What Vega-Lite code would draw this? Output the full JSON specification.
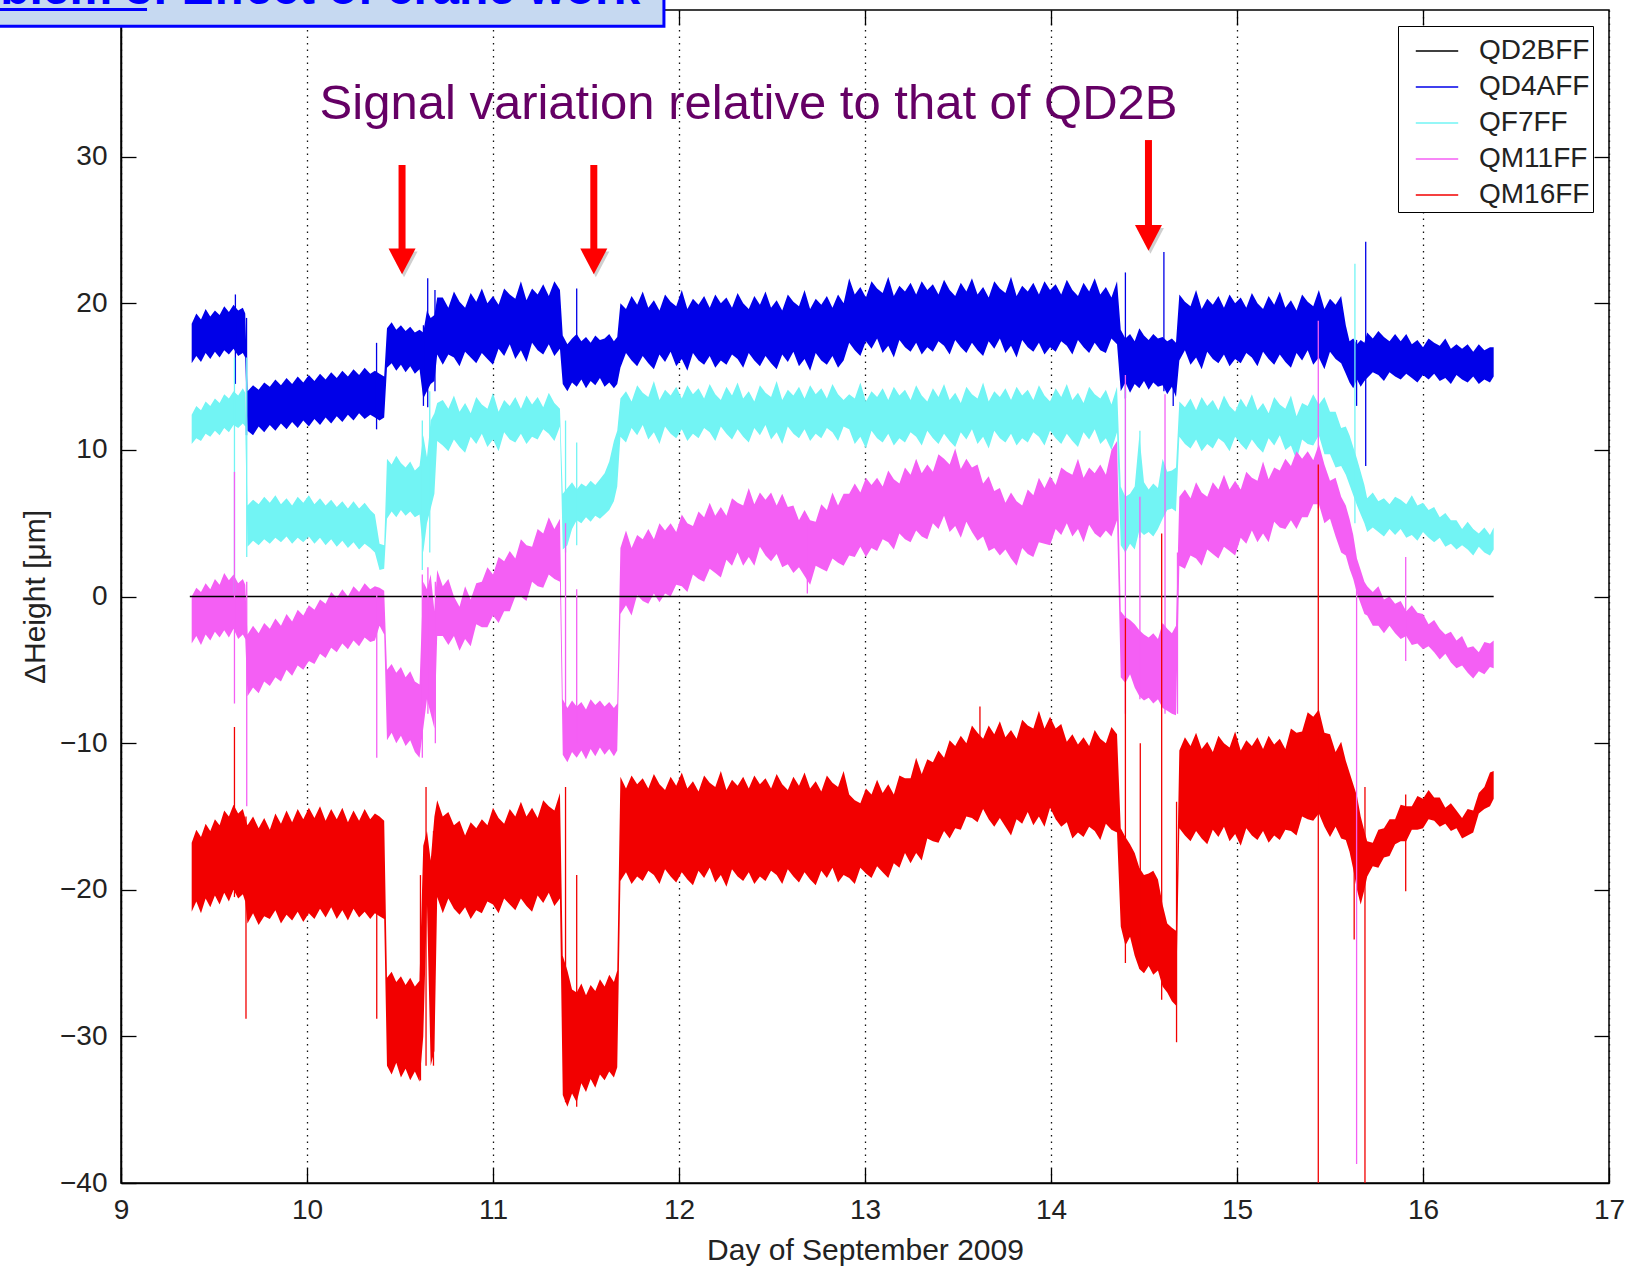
{
  "$schema": "https://vega.github.io/schema/vega-lite/v6.json",
  "width": 1488,
  "height": 1173,
  "autosize": {"type": "none"},
  "padding": {"left": 121, "top": 10, "right": 21, "bottom": 86},
  "background": "#ffffff",
  "datasets": {
    "bands": [
      {"t":9.38,"b1":15.9,"b2":18.6,"c1":10.4,"c2":12.4,"m1":-3.2,"m2":0.0,"r1":-21.5,"r2":-16.8},
      {"t":9.405,"b1":16.4,"b2":19.3,"c1":10.8,"c2":13.0,"m1":-2.7,"m2":0.6,"r1":-20.8,"r2":-15.9},
      {"t":9.43,"b1":16.0,"b2":18.9,"c1":10.6,"c2":12.7,"m1":-3.3,"m2":0.3,"r1":-21.6,"r2":-16.4},
      {"t":9.455,"b1":16.6,"b2":19.6,"c1":11.1,"c2":13.3,"m1":-2.6,"m2":0.9,"r1":-20.6,"r2":-15.5},
      {"t":9.48,"b1":16.2,"b2":19.1,"c1":10.9,"c2":13.0,"m1":-3.0,"m2":0.5,"r1":-21.2,"r2":-16.0},
      {"t":9.505,"b1":16.7,"b2":19.5,"c1":11.3,"c2":13.5,"m1":-2.4,"m2":1.2,"r1":-20.4,"r2":-15.2},
      {"t":9.53,"b1":16.3,"b2":19.2,"c1":11.0,"c2":13.2,"m1":-2.8,"m2":0.8,"r1":-21.0,"r2":-15.6},
      {"t":9.555,"b1":16.8,"b2":19.8,"c1":11.5,"c2":13.8,"m1":-2.3,"m2":1.6,"r1":-20.2,"r2":-14.6},
      {"t":9.58,"b1":16.5,"b2":19.4,"c1":11.2,"c2":13.5,"m1":-2.8,"m2":1.1,"r1":-20.8,"r2":-15.0},
      {"t":9.605,"b1":16.9,"b2":19.9,"c1":11.7,"c2":14.0,"m1":-2.2,"m2":1.5,"r1":-20.0,"r2":-14.2},
      {"t":9.63,"b1":16.4,"b2":19.5,"c1":11.5,"c2":13.7,"m1":-2.9,"m2":0.9,"r1":-20.6,"r2":-14.8},
      {"t":9.655,"b1":16.6,"b2":19.7,"c1":11.8,"c2":14.2,"m1":-2.6,"m2":1.2,"r1":-20.3,"r2":-14.5},
      {"t":9.668,"b1":16.3,"b2":19.3,"c1":11.6,"c2":13.9,"m1":-2.9,"m2":0.8,"r1":-20.8,"r2":-15.1},
      {"t":9.68,"b1":11.3,"b2":14.0,"c1":3.4,"c2":6.2,"m1":-6.8,"m2":-2.6,"r1":-22.3,"r2":-15.6},
      {"t":9.71,"b1":11.0,"b2":14.4,"c1":3.8,"c2":6.6,"m1":-6.2,"m2":-2.0,"r1":-21.6,"r2":-15.0},
      {"t":9.74,"b1":11.6,"b2":14.1,"c1":3.5,"c2":6.3,"m1":-6.6,"m2":-2.5,"r1":-22.4,"r2":-15.8},
      {"t":9.77,"b1":11.2,"b2":14.6,"c1":3.9,"c2":6.8,"m1":-5.8,"m2":-1.8,"r1":-21.8,"r2":-15.1},
      {"t":9.8,"b1":11.7,"b2":14.3,"c1":3.6,"c2":6.4,"m1":-6.1,"m2":-2.2,"r1":-22.0,"r2":-15.9},
      {"t":9.83,"b1":11.3,"b2":14.8,"c1":4.0,"c2":6.9,"m1":-5.5,"m2":-1.5,"r1":-21.4,"r2":-14.8},
      {"t":9.86,"b1":11.8,"b2":14.4,"c1":3.7,"c2":6.3,"m1":-5.8,"m2":-2.0,"r1":-22.3,"r2":-15.5},
      {"t":9.89,"b1":11.4,"b2":14.9,"c1":4.1,"c2":6.7,"m1":-5.0,"m2":-1.2,"r1":-21.7,"r2":-14.6},
      {"t":9.92,"b1":11.9,"b2":14.5,"c1":3.6,"c2":6.2,"m1":-5.4,"m2":-1.7,"r1":-22.1,"r2":-15.4},
      {"t":9.95,"b1":11.5,"b2":15.0,"c1":4.0,"c2":6.8,"m1":-4.7,"m2":-0.9,"r1":-21.5,"r2":-14.5},
      {"t":9.98,"b1":12.0,"b2":14.6,"c1":3.7,"c2":6.4,"m1":-5.0,"m2":-1.3,"r1":-22.2,"r2":-15.2},
      {"t":10.01,"b1":11.6,"b2":15.1,"c1":4.1,"c2":6.9,"m1":-4.4,"m2":-0.6,"r1":-21.6,"r2":-14.4},
      {"t":10.04,"b1":12.1,"b2":14.7,"c1":3.6,"c2":6.3,"m1":-4.6,"m2":-0.9,"r1":-22.0,"r2":-15.1},
      {"t":10.07,"b1":11.7,"b2":15.2,"c1":4.0,"c2":6.7,"m1":-3.9,"m2":-0.2,"r1":-21.3,"r2":-14.3},
      {"t":10.1,"b1":12.2,"b2":14.8,"c1":3.5,"c2":6.2,"m1":-4.2,"m2":-0.5,"r1":-21.9,"r2":-15.3},
      {"t":10.13,"b1":11.8,"b2":15.3,"c1":3.9,"c2":6.6,"m1":-3.5,"m2":0.3,"r1":-21.2,"r2":-14.5},
      {"t":10.16,"b1":12.3,"b2":14.9,"c1":3.4,"c2":6.1,"m1":-3.8,"m2":-0.1,"r1":-22.0,"r2":-15.2},
      {"t":10.19,"b1":11.9,"b2":15.4,"c1":3.8,"c2":6.5,"m1":-3.2,"m2":0.5,"r1":-21.4,"r2":-14.4},
      {"t":10.22,"b1":12.4,"b2":15.0,"c1":3.3,"c2":6.0,"m1":-3.6,"m2":0.0,"r1":-22.1,"r2":-15.4},
      {"t":10.25,"b1":12.0,"b2":15.5,"c1":3.7,"c2":6.5,"m1":-3.0,"m2":0.7,"r1":-21.3,"r2":-14.6},
      {"t":10.28,"b1":12.5,"b2":15.1,"c1":3.2,"c2":6.0,"m1":-3.4,"m2":0.3,"r1":-21.9,"r2":-15.3},
      {"t":10.31,"b1":12.1,"b2":15.6,"c1":3.6,"c2":6.4,"m1":-2.8,"m2":0.9,"r1":-21.5,"r2":-14.5},
      {"t":10.34,"b1":12.4,"b2":15.2,"c1":3.3,"c2":5.9,"m1":-3.1,"m2":0.5,"r1":-22.0,"r2":-15.2},
      {"t":10.365,"b1":12.2,"b2":15.4,"c1":3.0,"c2":5.6,"m1":-3.0,"m2":0.7,"r1":-21.6,"r2":-14.8},
      {"t":10.39,"b1":12.0,"b2":15.2,"c1":1.8,"c2":3.6,"m1":-2.0,"m2":0.6,"r1":-21.8,"r2":-15.0},
      {"t":10.415,"b1":12.2,"b2":15.0,"c1":1.9,"c2":3.5,"m1":-2.6,"m2":0.4,"r1":-22.0,"r2":-15.3},
      {"t":10.43,"b1":15.6,"b2":18.3,"c1":5.3,"c2":9.4,"m1":-9.8,"m2":-5.0,"r1":-32.0,"r2":-26.0},
      {"t":10.455,"b1":15.9,"b2":18.7,"c1":5.8,"c2":9.0,"m1":-9.3,"m2":-4.6,"r1":-32.6,"r2":-25.6},
      {"t":10.48,"b1":15.4,"b2":18.2,"c1":5.4,"c2":9.6,"m1":-10.0,"m2":-5.2,"r1":-31.8,"r2":-26.3},
      {"t":10.505,"b1":15.8,"b2":18.5,"c1":5.9,"c2":9.1,"m1":-9.5,"m2":-4.8,"r1":-32.8,"r2":-25.9},
      {"t":10.53,"b1":15.3,"b2":18.1,"c1":5.5,"c2":8.8,"m1":-10.2,"m2":-5.5,"r1":-32.2,"r2":-26.5},
      {"t":10.555,"b1":15.7,"b2":18.4,"c1":5.8,"c2":9.2,"m1":-9.8,"m2":-5.1,"r1":-33.0,"r2":-26.0},
      {"t":10.58,"b1":15.2,"b2":18.0,"c1":5.4,"c2":8.6,"m1":-10.6,"m2":-5.8,"r1":-32.4,"r2":-26.6},
      {"t":10.605,"b1":15.5,"b2":18.2,"c1":5.6,"c2":8.9,"m1":-11.0,"m2":-6.0,"r1":-33.1,"r2":-26.2},
      {"t":10.625,"b1":13.5,"b2":18.0,"c1":3.0,"c2":11.0,"m1":-9.0,"m2":1.0,"r1":-30.0,"r2":-17.0},
      {"t":10.645,"b1":14.0,"b2":19.5,"c1":5.0,"c2":9.5,"m1":-7.0,"m2":0.5,"r1":-21.0,"r2":-16.0},
      {"t":10.665,"b1":14.5,"b2":19.0,"c1":6.0,"c2":12.0,"m1":-8.0,"m2":1.5,"r1":-32.0,"r2":-18.0},
      {"t":10.685,"b1":14.7,"b2":19.2,"c1":7.0,"c2":12.5,"m1":-9.0,"m2":-1.0,"r1":-31.0,"r2":-15.0},
      {"t":10.7,"b1":16.5,"b2":20.4,"c1":10.6,"c2":13.2,"m1":-2.7,"m2":1.8,"r1":-20.5,"r2":-13.9},
      {"t":10.73,"b1":15.8,"b2":20.4,"c1":10.3,"c2":13.4,"m1":-2.7,"m2":0.7,"r1":-21.6,"r2":-15.0},
      {"t":10.76,"b1":16.5,"b2":19.7,"c1":9.9,"c2":12.8,"m1":-3.3,"m2":1.2,"r1":-20.6,"r2":-14.7},
      {"t":10.79,"b1":16.3,"b2":20.8,"c1":10.7,"c2":13.7,"m1":-2.7,"m2":0.0,"r1":-21.3,"r2":-15.6},
      {"t":10.82,"b1":15.7,"b2":20.1,"c1":10.2,"c2":12.6,"m1":-3.7,"m2":-0.7,"r1":-21.7,"r2":-15.3},
      {"t":10.85,"b1":16.7,"b2":19.7,"c1":9.8,"c2":13.2,"m1":-2.9,"m2":0.7,"r1":-21.2,"r2":-16.3},
      {"t":10.88,"b1":16.3,"b2":20.7,"c1":10.9,"c2":12.5,"m1":-3.4,"m2":-0.2,"r1":-22.0,"r2":-15.4},
      {"t":10.91,"b1":15.9,"b2":20.1,"c1":10.4,"c2":13.6,"m1":-1.9,"m2":0.9,"r1":-21.4,"r2":-15.8},
      {"t":10.94,"b1":16.6,"b2":21.0,"c1":11.1,"c2":13.1,"m1":-2.1,"m2":1.0,"r1":-21.6,"r2":-15.2},
      {"t":10.97,"b1":16.2,"b2":20.0,"c1":10.2,"c2":12.8,"m1":-2.1,"m2":2.0,"r1":-20.8,"r2":-15.6},
      {"t":11.0,"b1":15.8,"b2":20.5,"c1":10.7,"c2":13.9,"m1":-1.3,"m2":1.5,"r1":-21.0,"r2":-14.4},
      {"t":11.03,"b1":16.9,"b2":19.9,"c1":9.9,"c2":12.6,"m1":-1.8,"m2":2.7,"r1":-21.6,"r2":-15.1},
      {"t":11.06,"b1":16.4,"b2":21.0,"c1":11.2,"c2":13.4,"m1":-1.0,"m2":2.4,"r1":-20.6,"r2":-15.5},
      {"t":11.09,"b1":17.2,"b2":20.6,"c1":10.7,"c2":13.0,"m1":-1.0,"m2":3.1,"r1":-21.0,"r2":-14.5},
      {"t":11.12,"b1":16.2,"b2":20.3,"c1":10.5,"c2":13.6,"m1":0.0,"m2":2.6,"r1":-21.4,"r2":-15.0},
      {"t":11.15,"b1":16.8,"b2":21.5,"c1":11.1,"c2":12.8,"m1":0.0,"m2":3.9,"r1":-20.6,"r2":-14.0},
      {"t":11.18,"b1":16.0,"b2":20.2,"c1":10.4,"c2":13.7,"m1":-0.3,"m2":3.5,"r1":-21.1,"r2":-15.0},
      {"t":11.21,"b1":17.3,"b2":21.0,"c1":10.9,"c2":13.1,"m1":1.0,"m2":3.4,"r1":-21.5,"r2":-14.4},
      {"t":11.24,"b1":16.8,"b2":20.6,"c1":10.7,"c2":13.6,"m1":0.7,"m2":4.6,"r1":-20.4,"r2":-15.1},
      {"t":11.27,"b1":16.5,"b2":21.3,"c1":11.4,"c2":12.9,"m1":0.6,"m2":4.3,"r1":-20.9,"r2":-13.9},
      {"t":11.3,"b1":17.2,"b2":20.5,"c1":11.1,"c2":13.9,"m1":1.5,"m2":5.4,"r1":-20.2,"r2":-14.3},
      {"t":11.33,"b1":16.4,"b2":21.5,"c1":10.6,"c2":13.2,"m1":1.2,"m2":4.6,"r1":-21.1,"r2":-14.6},
      {"t":11.36,"b1":16.9,"b2":20.9,"c1":11.6,"c2":12.8,"m1":1.0,"m2":5.3,"r1":-20.6,"r2":-13.4},
      {"t":11.375,"b1":14.5,"b2":17.8,"c1":3.2,"c2":7.0,"m1":-10.8,"m2":-7.0,"r1":-34.0,"r2":-24.5},
      {"t":11.4,"b1":14.0,"b2":17.2,"c1":3.5,"c2":7.4,"m1":-11.3,"m2":-7.6,"r1":-34.8,"r2":-25.5},
      {"t":11.425,"b1":14.6,"b2":17.6,"c1":4.6,"c2":7.8,"m1":-10.6,"m2":-7.1,"r1":-33.9,"r2":-26.8},
      {"t":11.45,"b1":14.3,"b2":17.9,"c1":5.2,"c2":7.3,"m1":-11.0,"m2":-7.5,"r1":-34.5,"r2":-27.0},
      {"t":11.475,"b1":14.8,"b2":17.4,"c1":5.0,"c2":7.7,"m1":-10.5,"m2":-7.2,"r1":-33.2,"r2":-26.4},
      {"t":11.5,"b1":14.2,"b2":17.7,"c1":5.4,"c2":7.5,"m1":-11.1,"m2":-7.7,"r1":-33.8,"r2":-27.2},
      {"t":11.525,"b1":14.7,"b2":17.3,"c1":5.1,"c2":7.9,"m1":-10.4,"m2":-7.0,"r1":-32.9,"r2":-26.5},
      {"t":11.55,"b1":14.4,"b2":17.8,"c1":5.5,"c2":7.6,"m1":-10.9,"m2":-7.4,"r1":-33.5,"r2":-26.9},
      {"t":11.575,"b1":14.9,"b2":17.5,"c1":5.3,"c2":8.0,"m1":-10.3,"m2":-7.1,"r1":-32.6,"r2":-26.1},
      {"t":11.6,"b1":14.3,"b2":17.6,"c1":5.6,"c2":8.4,"m1":-10.8,"m2":-7.5,"r1":-33.0,"r2":-26.6},
      {"t":11.625,"b1":14.6,"b2":17.9,"c1":5.9,"c2":9.2,"m1":-10.4,"m2":-7.2,"r1":-32.4,"r2":-25.8},
      {"t":11.65,"b1":14.2,"b2":17.4,"c1":6.5,"c2":10.6,"m1":-10.9,"m2":-7.6,"r1":-32.8,"r2":-26.3},
      {"t":11.668,"b1":14.5,"b2":17.7,"c1":7.5,"c2":11.3,"m1":-10.5,"m2":-7.3,"r1":-32.1,"r2":-25.5},
      {"t":11.685,"b1":15.6,"b2":20.0,"c1":10.9,"c2":13.5,"m1":-1.2,"m2":3.3,"r1":-19.4,"r2":-12.3},
      {"t":11.715,"b1":16.6,"b2":19.6,"c1":10.5,"c2":14.0,"m1":-0.6,"m2":4.5,"r1":-18.8,"r2":-13.1},
      {"t":11.745,"b1":16.1,"b2":20.5,"c1":11.5,"c2":13.3,"m1":-1.3,"m2":3.3,"r1":-19.6,"r2":-12.2},
      {"t":11.775,"b1":15.7,"b2":19.9,"c1":11.0,"c2":14.4,"m1":0.1,"m2":4.2,"r1":-19.1,"r2":-12.8},
      {"t":11.805,"b1":16.4,"b2":20.8,"c1":11.7,"c2":13.9,"m1":-0.3,"m2":3.9,"r1":-19.4,"r2":-12.4},
      {"t":11.835,"b1":15.9,"b2":19.7,"c1":10.7,"c2":13.6,"m1":-0.5,"m2":4.6,"r1":-18.7,"r2":-13.1},
      {"t":11.865,"b1":15.5,"b2":20.2,"c1":11.2,"c2":14.7,"m1":0.2,"m2":3.9,"r1":-19.0,"r2":-12.1},
      {"t":11.895,"b1":16.5,"b2":19.5,"c1":10.4,"c2":13.4,"m1":-0.4,"m2":5.0,"r1":-19.6,"r2":-12.8},
      {"t":11.925,"b1":16.0,"b2":20.6,"c1":11.6,"c2":14.1,"m1":0.2,"m2":4.5,"r1":-18.6,"r2":-13.2},
      {"t":11.955,"b1":16.7,"b2":20.1,"c1":11.1,"c2":13.7,"m1":0.0,"m2":5.0,"r1":-19.1,"r2":-12.3},
      {"t":11.985,"b1":15.7,"b2":19.8,"c1":10.8,"c2":14.3,"m1":0.8,"m2":4.4,"r1":-19.5,"r2":-12.9},
      {"t":12.015,"b1":16.2,"b2":20.9,"c1":11.4,"c2":13.5,"m1":0.7,"m2":5.6,"r1":-18.8,"r2":-12.0},
      {"t":12.045,"b1":15.4,"b2":19.6,"c1":10.6,"c2":14.4,"m1":0.3,"m2":5.0,"r1":-19.3,"r2":-13.1},
      {"t":12.075,"b1":16.6,"b2":20.3,"c1":11.1,"c2":13.8,"m1":1.5,"m2":4.8,"r1":-19.7,"r2":-12.6},
      {"t":12.105,"b1":16.1,"b2":19.9,"c1":10.8,"c2":14.2,"m1":1.2,"m2":5.8,"r1":-18.7,"r2":-13.3},
      {"t":12.135,"b1":15.8,"b2":20.5,"c1":11.5,"c2":13.5,"m1":1.0,"m2":5.4,"r1":-19.2,"r2":-12.2},
      {"t":12.165,"b1":16.4,"b2":19.7,"c1":11.2,"c2":14.5,"m1":1.9,"m2":6.4,"r1":-18.5,"r2":-12.7},
      {"t":12.195,"b1":15.6,"b2":20.6,"c1":10.6,"c2":13.8,"m1":1.6,"m2":5.5,"r1":-19.5,"r2":-13.0},
      {"t":12.225,"b1":16.1,"b2":20.0,"c1":11.6,"c2":13.4,"m1":1.3,"m2":6.1,"r1":-19.0,"r2":-11.9},
      {"t":12.255,"b1":15.8,"b2":20.4,"c1":11.1,"c2":14.3,"m1":2.5,"m2":5.5,"r1":-19.8,"r2":-13.2},
      {"t":12.285,"b1":16.5,"b2":19.7,"c1":10.7,"c2":13.7,"m1":2.1,"m2":6.7,"r1":-18.6,"r2":-12.5},
      {"t":12.315,"b1":16.2,"b2":20.7,"c1":11.4,"c2":14.6,"m1":3.0,"m2":6.4,"r1":-19.1,"r2":-12.9},
      {"t":12.345,"b1":15.6,"b2":20.0,"c1":10.9,"c2":13.5,"m1":2.1,"m2":6.2,"r1":-19.4,"r2":-12.3},
      {"t":12.375,"b1":16.6,"b2":19.6,"c1":10.5,"c2":14.0,"m1":2.7,"m2":7.4,"r1":-18.8,"r2":-13.1},
      {"t":12.405,"b1":16.1,"b2":20.5,"c1":11.5,"c2":13.3,"m1":2.1,"m2":6.3,"r1":-19.6,"r2":-12.2},
      {"t":12.435,"b1":15.7,"b2":19.9,"c1":11.0,"c2":14.4,"m1":3.4,"m2":7.1,"r1":-19.1,"r2":-12.8},
      {"t":12.465,"b1":16.4,"b2":20.8,"c1":11.7,"c2":13.9,"m1":2.8,"m2":6.6,"r1":-19.4,"r2":-12.4},
      {"t":12.495,"b1":15.9,"b2":19.7,"c1":10.7,"c2":13.6,"m1":2.4,"m2":7.1,"r1":-18.7,"r2":-13.1},
      {"t":12.525,"b1":15.5,"b2":20.2,"c1":11.2,"c2":14.7,"m1":2.9,"m2":6.2,"r1":-19.0,"r2":-12.1},
      {"t":12.555,"b1":16.5,"b2":19.5,"c1":10.4,"c2":13.4,"m1":2.0,"m2":7.0,"r1":-19.6,"r2":-12.8},
      {"t":12.585,"b1":16.0,"b2":20.6,"c1":11.6,"c2":14.1,"m1":2.2,"m2":6.1,"r1":-18.6,"r2":-13.2},
      {"t":12.615,"b1":16.7,"b2":20.1,"c1":11.1,"c2":13.7,"m1":1.6,"m2":6.2,"r1":-19.1,"r2":-12.3},
      {"t":12.645,"b1":15.7,"b2":19.8,"c1":10.8,"c2":14.3,"m1":2.0,"m2":5.2,"r1":-19.5,"r2":-12.9},
      {"t":12.675,"b1":16.2,"b2":20.9,"c1":11.4,"c2":13.5,"m1":1.4,"m2":5.9,"r1":-18.8,"r2":-12.0},
      {"t":12.705,"b1":15.4,"b2":19.6,"c1":10.6,"c2":14.4,"m1":0.8,"m2":5.2,"r1":-19.3,"r2":-13.1},
      {"t":12.735,"b1":16.6,"b2":20.3,"c1":11.1,"c2":13.8,"m1":2.1,"m2":5.1,"r1":-19.7,"r2":-12.6},
      {"t":12.765,"b1":16.1,"b2":19.9,"c1":10.8,"c2":14.2,"m1":1.9,"m2":6.3,"r1":-18.7,"r2":-13.3},
      {"t":12.795,"b1":15.8,"b2":20.5,"c1":11.5,"c2":13.5,"m1":1.7,"m2":5.9,"r1":-19.2,"r2":-12.2},
      {"t":12.825,"b1":16.4,"b2":19.7,"c1":11.2,"c2":14.5,"m1":2.6,"m2":7.1,"r1":-18.5,"r2":-12.7},
      {"t":12.855,"b1":15.6,"b2":20.6,"c1":10.6,"c2":13.8,"m1":2.3,"m2":6.2,"r1":-19.5,"r2":-13.0},
      {"t":12.885,"b1":16.1,"b2":20.0,"c1":11.6,"c2":13.4,"m1":2.1,"m2":7.0,"r1":-19.0,"r2":-11.9},
      {"t":12.915,"b1":17.3,"b2":21.7,"c1":11.4,"c2":13.8,"m1":2.8,"m2":7.0,"r1":-19.2,"r2":-13.5},
      {"t":12.945,"b1":16.8,"b2":20.6,"c1":10.4,"c2":13.5,"m1":2.7,"m2":7.7,"r1":-19.6,"r2":-13.9},
      {"t":12.975,"b1":16.4,"b2":21.1,"c1":10.9,"c2":14.6,"m1":3.4,"m2":7.1,"r1":-18.5,"r2":-14.1},
      {"t":13.005,"b1":17.4,"b2":20.4,"c1":10.1,"c2":13.3,"m1":2.7,"m2":8.1,"r1":-18.9,"r2":-13.1},
      {"t":13.035,"b1":16.9,"b2":21.5,"c1":11.3,"c2":14.0,"m1":3.3,"m2":7.6,"r1":-19.2,"r2":-13.5},
      {"t":13.065,"b1":17.6,"b2":21.0,"c1":10.8,"c2":13.6,"m1":3.1,"m2":8.1,"r1":-18.4,"r2":-12.5},
      {"t":13.095,"b1":16.6,"b2":20.7,"c1":10.5,"c2":14.2,"m1":3.9,"m2":7.5,"r1":-18.8,"r2":-13.4},
      {"t":13.125,"b1":17.1,"b2":21.8,"c1":11.1,"c2":13.4,"m1":3.7,"m2":8.6,"r1":-19.2,"r2":-12.8},
      {"t":13.155,"b1":16.3,"b2":20.5,"c1":10.3,"c2":14.3,"m1":3.2,"m2":8.0,"r1":-18.2,"r2":-13.5},
      {"t":13.185,"b1":17.5,"b2":21.2,"c1":10.8,"c2":13.7,"m1":4.3,"m2":7.7,"r1":-18.5,"r2":-12.2},
      {"t":13.215,"b1":17.0,"b2":20.8,"c1":10.5,"c2":14.1,"m1":3.9,"m2":8.8,"r1":-17.5,"r2":-12.4},
      {"t":13.245,"b1":16.7,"b2":21.4,"c1":11.2,"c2":13.4,"m1":3.7,"m2":8.3,"r1":-18.2,"r2":-12.4},
      {"t":13.275,"b1":17.3,"b2":20.6,"c1":10.9,"c2":14.4,"m1":4.5,"m2":9.4,"r1":-17.5,"r2":-11.0},
      {"t":13.305,"b1":16.5,"b2":21.5,"c1":10.3,"c2":13.7,"m1":4.1,"m2":8.4,"r1":-18.0,"r2":-12.1},
      {"t":13.335,"b1":17.0,"b2":20.9,"c1":11.3,"c2":13.3,"m1":3.9,"m2":9.0,"r1":-16.5,"r2":-11.1},
      {"t":13.365,"b1":16.7,"b2":21.3,"c1":10.8,"c2":14.2,"m1":5.0,"m2":8.5,"r1":-16.7,"r2":-11.3},
      {"t":13.395,"b1":17.4,"b2":20.6,"c1":10.4,"c2":13.6,"m1":4.6,"m2":9.7,"r1":-16.8,"r2":-10.5},
      {"t":13.425,"b1":17.1,"b2":21.6,"c1":11.1,"c2":14.5,"m1":5.5,"m2":9.4,"r1":-16.0,"r2":-11.0},
      {"t":13.455,"b1":16.5,"b2":20.9,"c1":10.6,"c2":13.4,"m1":4.4,"m2":9.0,"r1":-16.5,"r2":-9.8},
      {"t":13.485,"b1":17.5,"b2":20.5,"c1":10.2,"c2":13.9,"m1":4.8,"m2":10.1,"r1":-15.8,"r2":-10.2},
      {"t":13.515,"b1":17.0,"b2":21.4,"c1":11.2,"c2":13.2,"m1":4.0,"m2":8.7,"r1":-15.9,"r2":-9.5},
      {"t":13.545,"b1":16.6,"b2":20.8,"c1":10.7,"c2":14.3,"m1":5.1,"m2":9.4,"r1":-15.0,"r2":-10.0},
      {"t":13.575,"b1":17.3,"b2":21.7,"c1":11.4,"c2":13.8,"m1":4.4,"m2":8.8,"r1":-15.1,"r2":-8.8},
      {"t":13.605,"b1":16.8,"b2":20.6,"c1":10.4,"c2":13.5,"m1":3.8,"m2":9.0,"r1":-15.4,"r2":-9.3},
      {"t":13.635,"b1":16.4,"b2":21.1,"c1":10.9,"c2":14.6,"m1":4.1,"m2":7.7,"r1":-14.5,"r2":-9.7},
      {"t":13.665,"b1":17.4,"b2":20.4,"c1":10.1,"c2":13.3,"m1":3.1,"m2":8.2,"r1":-15.2,"r2":-8.8},
      {"t":13.695,"b1":16.9,"b2":21.5,"c1":11.3,"c2":14.0,"m1":3.3,"m2":7.2,"r1":-15.7,"r2":-9.4},
      {"t":13.725,"b1":17.6,"b2":21.0,"c1":10.8,"c2":13.6,"m1":2.8,"m2":7.4,"r1":-15.1,"r2":-8.5},
      {"t":13.755,"b1":16.6,"b2":20.7,"c1":10.5,"c2":14.2,"m1":3.2,"m2":6.4,"r1":-15.7,"r2":-9.6},
      {"t":13.785,"b1":17.1,"b2":21.8,"c1":11.1,"c2":13.4,"m1":2.6,"m2":7.1,"r1":-16.3,"r2":-9.1},
      {"t":13.815,"b1":16.3,"b2":20.5,"c1":10.3,"c2":14.3,"m1":2.1,"m2":6.5,"r1":-15.2,"r2":-9.7},
      {"t":13.845,"b1":17.5,"b2":21.2,"c1":10.8,"c2":13.7,"m1":3.3,"m2":6.2,"r1":-15.5,"r2":-8.4},
      {"t":13.875,"b1":17.0,"b2":20.8,"c1":10.5,"c2":14.1,"m1":2.9,"m2":7.3,"r1":-14.7,"r2":-8.8},
      {"t":13.905,"b1":16.7,"b2":21.4,"c1":11.2,"c2":13.4,"m1":2.7,"m2":6.9,"r1":-15.6,"r2":-9.0},
      {"t":13.935,"b1":17.3,"b2":20.6,"c1":10.9,"c2":14.4,"m1":3.7,"m2":8.1,"r1":-15.0,"r2":-7.8},
      {"t":13.965,"b1":16.5,"b2":21.5,"c1":10.3,"c2":13.7,"m1":3.6,"m2":7.4,"r1":-15.7,"r2":-9.0},
      {"t":13.995,"b1":17.0,"b2":20.9,"c1":11.3,"c2":13.3,"m1":3.5,"m2":8.2,"r1":-14.4,"r2":-8.2},
      {"t":14.025,"b1":16.7,"b2":21.3,"c1":10.8,"c2":14.2,"m1":4.6,"m2":7.6,"r1":-15.2,"r2":-9.0},
      {"t":14.055,"b1":17.4,"b2":20.6,"c1":10.4,"c2":13.6,"m1":4.2,"m2":8.8,"r1":-15.7,"r2":-8.7},
      {"t":14.085,"b1":17.1,"b2":21.6,"c1":11.1,"c2":14.5,"m1":5.0,"m2":8.5,"r1":-15.4,"r2":-9.9},
      {"t":14.115,"b1":16.5,"b2":20.9,"c1":10.6,"c2":13.4,"m1":4.1,"m2":8.3,"r1":-16.5,"r2":-9.4},
      {"t":14.145,"b1":17.5,"b2":20.5,"c1":10.2,"c2":13.9,"m1":4.6,"m2":9.4,"r1":-16.1,"r2":-10.1},
      {"t":14.175,"b1":17.0,"b2":21.4,"c1":11.2,"c2":13.2,"m1":3.7,"m2":8.1,"r1":-16.4,"r2":-9.6},
      {"t":14.205,"b1":16.6,"b2":20.8,"c1":10.7,"c2":14.3,"m1":4.9,"m2":8.8,"r1":-15.7,"r2":-10.2},
      {"t":14.235,"b1":17.3,"b2":21.7,"c1":11.4,"c2":13.8,"m1":4.3,"m2":8.4,"r1":-16.0,"r2":-9.1},
      {"t":14.265,"b1":16.8,"b2":20.6,"c1":10.4,"c2":13.5,"m1":4.0,"m2":9.0,"r1":-16.6,"r2":-9.7},
      {"t":14.295,"b1":16.6,"b2":21.1,"c1":10.8,"c2":14.1,"m1":4.5,"m2":8.3,"r1":-15.5,"r2":-10.0},
      {"t":14.325,"b1":17.6,"b2":20.4,"c1":10.0,"c2":13.1,"m1":4.1,"m2":10.0,"r1":-15.9,"r2":-8.9},
      {"t":14.355,"b1":17.2,"b2":21.5,"c1":11.2,"c2":14.3,"m1":5.2,"m2":10.6,"r1":-16.1,"r2":-9.4},
      {"t":14.375,"b1":14.0,"b2":18.2,"c1":3.5,"c2":7.5,"m1":-5.5,"m2":-1.0,"r1":-22.5,"r2":-15.8},
      {"t":14.4,"b1":14.6,"b2":17.6,"c1":3.0,"c2":6.8,"m1":-5.9,"m2":-1.4,"r1":-23.8,"r2":-16.4},
      {"t":14.425,"b1":13.9,"b2":17.9,"c1":3.6,"c2":7.0,"m1":-5.3,"m2":-1.6,"r1":-23.2,"r2":-16.9},
      {"t":14.45,"b1":14.5,"b2":17.4,"c1":3.2,"c2":7.5,"m1":-6.2,"m2":-1.9,"r1":-24.5,"r2":-17.5},
      {"t":14.475,"b1":14.2,"b2":18.3,"c1":4.5,"c2":11.0,"m1":-6.8,"m2":-2.3,"r1":-25.4,"r2":-18.5},
      {"t":14.5,"b1":14.7,"b2":17.8,"c1":4.2,"c2":7.8,"m1":-7.1,"m2":-2.6,"r1":-25.7,"r2":-19.0},
      {"t":14.525,"b1":14.1,"b2":17.5,"c1":4.4,"c2":7.3,"m1":-6.9,"m2":-2.8,"r1":-25.2,"r2":-18.9},
      {"t":14.55,"b1":14.6,"b2":17.9,"c1":4.1,"c2":7.7,"m1":-7.3,"m2":-2.5,"r1":-25.8,"r2":-18.7},
      {"t":14.575,"b1":14.3,"b2":17.6,"c1":4.6,"c2":7.4,"m1":-7.0,"m2":-2.9,"r1":-25.5,"r2":-19.3},
      {"t":14.6,"b1":14.4,"b2":17.7,"c1":5.3,"c2":9.4,"m1":-7.6,"m2":-1.8,"r1":-26.6,"r2":-21.0},
      {"t":14.625,"b1":13.8,"b2":17.4,"c1":5.9,"c2":8.5,"m1":-7.8,"m2":-2.2,"r1":-27.0,"r2":-22.3},
      {"t":14.65,"b1":14.3,"b2":17.6,"c1":6.0,"c2":8.6,"m1":-8.0,"m2":-2.5,"r1":-27.6,"r2":-22.6},
      {"t":14.672,"b1":13.6,"b2":17.3,"c1":5.8,"c2":8.8,"m1":-8.1,"m2":-2.0,"r1":-27.9,"r2":-22.8},
      {"t":14.69,"b1":16.1,"b2":20.6,"c1":10.9,"c2":13.3,"m1":2.1,"m2":6.8,"r1":-15.8,"r2":-10.5},
      {"t":14.72,"b1":16.8,"b2":20.1,"c1":10.4,"c2":12.9,"m1":1.9,"m2":7.3,"r1":-16.3,"r2":-9.6},
      {"t":14.75,"b1":15.8,"b2":19.8,"c1":10.1,"c2":13.5,"m1":2.8,"m2":6.7,"r1":-16.7,"r2":-10.2},
      {"t":14.78,"b1":16.3,"b2":20.9,"c1":10.7,"c2":12.7,"m1":2.6,"m2":7.8,"r1":-16.0,"r2":-9.3},
      {"t":14.81,"b1":15.5,"b2":19.6,"c1":9.9,"c2":13.6,"m1":2.1,"m2":7.1,"r1":-16.5,"r2":-10.4},
      {"t":14.84,"b1":16.7,"b2":20.3,"c1":10.4,"c2":13.0,"m1":3.2,"m2":6.8,"r1":-16.9,"r2":-9.9},
      {"t":14.87,"b1":16.2,"b2":19.9,"c1":10.1,"c2":13.4,"m1":2.9,"m2":7.8,"r1":-15.9,"r2":-10.6},
      {"t":14.9,"b1":15.9,"b2":20.5,"c1":10.8,"c2":12.7,"m1":2.6,"m2":7.3,"r1":-16.4,"r2":-9.5},
      {"t":14.93,"b1":16.5,"b2":19.7,"c1":10.5,"c2":13.7,"m1":3.4,"m2":8.3,"r1":-15.7,"r2":-10.0},
      {"t":14.96,"b1":15.7,"b2":20.6,"c1":9.9,"c2":13.0,"m1":3.1,"m2":7.3,"r1":-16.7,"r2":-10.3},
      {"t":14.99,"b1":16.2,"b2":20.0,"c1":10.9,"c2":12.6,"m1":2.8,"m2":7.9,"r1":-16.2,"r2":-9.2},
      {"t":15.02,"b1":15.9,"b2":20.4,"c1":10.4,"c2":13.5,"m1":4.0,"m2":7.3,"r1":-17.0,"r2":-10.5},
      {"t":15.05,"b1":16.6,"b2":19.7,"c1":10.0,"c2":12.9,"m1":3.6,"m2":8.5,"r1":-15.8,"r2":-9.8},
      {"t":15.08,"b1":16.3,"b2":20.7,"c1":10.7,"c2":13.8,"m1":4.5,"m2":8.1,"r1":-16.3,"r2":-10.2},
      {"t":15.11,"b1":15.7,"b2":20.0,"c1":10.2,"c2":12.7,"m1":3.7,"m2":7.9,"r1":-16.6,"r2":-9.6},
      {"t":15.14,"b1":16.7,"b2":19.6,"c1":9.8,"c2":13.2,"m1":4.3,"m2":9.2,"r1":-16.0,"r2":-10.4},
      {"t":15.17,"b1":16.2,"b2":20.5,"c1":10.8,"c2":12.5,"m1":3.7,"m2":8.0,"r1":-16.8,"r2":-9.5},
      {"t":15.2,"b1":15.8,"b2":19.9,"c1":10.3,"c2":13.6,"m1":5.1,"m2":8.8,"r1":-16.3,"r2":-10.1},
      {"t":15.23,"b1":16.5,"b2":20.8,"c1":11.0,"c2":13.1,"m1":4.7,"m2":8.6,"r1":-16.6,"r2":-9.7},
      {"t":15.26,"b1":16.0,"b2":19.7,"c1":10.0,"c2":12.8,"m1":4.6,"m2":9.4,"r1":-15.9,"r2":-10.4},
      {"t":15.29,"b1":15.6,"b2":20.2,"c1":10.3,"c2":13.7,"m1":5.2,"m2":8.9,"r1":-16.0,"r2":-9.0},
      {"t":15.32,"b1":16.6,"b2":19.5,"c1":9.3,"c2":12.3,"m1":4.6,"m2":9.9,"r1":-16.3,"r2":-9.3},
      {"t":15.35,"b1":16.1,"b2":20.6,"c1":10.7,"c2":13.2,"m1":5.4,"m2":9.4,"r1":-15.0,"r2":-9.2},
      {"t":15.38,"b1":16.8,"b2":20.1,"c1":10.4,"c2":13.0,"m1":5.4,"m2":9.9,"r1":-15.2,"r2":-7.9},
      {"t":15.41,"b1":15.8,"b2":19.8,"c1":10.3,"c2":13.8,"m1":6.3,"m2":9.3,"r1":-15.3,"r2":-8.2},
      {"t":15.44,"b1":16.3,"b2":20.9,"c1":11.0,"c2":13.1,"m1":6.3,"m2":10.4,"r1":-14.8,"r2":-7.7},
      {"t":15.47,"b1":15.5,"b2":19.6,"c1":9.7,"c2":13.6,"m1":5.0,"m2":9.0,"r1":-15.7,"r2":-9.3},
      {"t":15.5,"b1":16.7,"b2":20.3,"c1":9.7,"c2":12.6,"m1":5.3,"m2":7.9,"r1":-16.4,"r2":-9.4},
      {"t":15.53,"b1":16.2,"b2":19.9,"c1":8.8,"c2":12.6,"m1":4.1,"m2":8.1,"r1":-15.7,"r2":-10.6},
      {"t":15.56,"b1":15.9,"b2":20.5,"c1":8.9,"c2":11.5,"m1":3.0,"m2":6.8,"r1":-16.5,"r2":-9.9},
      {"t":15.585,"b1":15.2,"b2":18.5,"c1":8.3,"c2":11.6,"m1":2.8,"m2":6.2,"r1":-16.6,"r2":-11.2},
      {"t":15.605,"b1":14.6,"b2":17.4,"c1":7.6,"c2":11.0,"m1":1.9,"m2":5.3,"r1":-17.4,"r2":-12.0},
      {"t":15.625,"b1":14.2,"b2":17.6,"c1":6.9,"c2":10.2,"m1":1.2,"m2":4.2,"r1":-18.6,"r2":-12.8},
      {"t":15.645,"b1":14.8,"b2":17.2,"c1":6.2,"c2":9.4,"m1":0.2,"m2":2.6,"r1":-20.0,"r2":-13.6},
      {"t":15.665,"b1":14.3,"b2":17.5,"c1":5.6,"c2":8.5,"m1":-0.5,"m2":1.8,"r1":-21.0,"r2":-15.0},
      {"t":15.685,"b1":14.7,"b2":17.3,"c1":5.0,"c2":7.6,"m1":-1.2,"m2":1.0,"r1":-20.0,"r2":-16.0},
      {"t":15.7,"b1":14.9,"b2":18.0,"c1":4.4,"c2":6.7,"m1":-1.3,"m2":0.7,"r1":-19.1,"r2":-16.7},
      {"t":15.73,"b1":15.3,"b2":17.6,"c1":4.7,"c2":7.1,"m1":-2.0,"m2":0.3,"r1":-18.4,"r2":-16.8},
      {"t":15.76,"b1":15.1,"b2":18.1,"c1":4.4,"c2":6.5,"m1":-2.0,"m2":0.7,"r1":-18.5,"r2":-15.9},
      {"t":15.79,"b1":14.7,"b2":17.7,"c1":4.1,"c2":6.7,"m1":-2.5,"m2":-0.2,"r1":-17.8,"r2":-15.8},
      {"t":15.82,"b1":15.3,"b2":17.4,"c1":4.6,"c2":6.3,"m1":-2.0,"m2":0.0,"r1":-17.7,"r2":-15.2},
      {"t":15.85,"b1":15.0,"b2":17.9,"c1":4.2,"c2":6.8,"m1":-2.5,"m2":-0.5,"r1":-16.9,"r2":-15.2},
      {"t":15.88,"b1":14.8,"b2":17.4,"c1":4.6,"c2":6.6,"m1":-2.9,"m2":-0.3,"r1":-16.7,"r2":-14.2},
      {"t":15.91,"b1":15.2,"b2":17.9,"c1":4.0,"c2":6.3,"m1":-2.7,"m2":-1.0,"r1":-16.7,"r2":-14.3},
      {"t":15.94,"b1":14.9,"b2":17.2,"c1":4.2,"c2":6.9,"m1":-3.3,"m2":-0.6,"r1":-15.9,"r2":-14.3},
      {"t":15.97,"b1":14.6,"b2":17.5,"c1":3.8,"c2":6.2,"m1":-3.2,"m2":-1.1,"r1":-15.9,"r2":-13.6},
      {"t":16.0,"b1":15.1,"b2":17.0,"c1":4.4,"c2":6.4,"m1":-3.6,"m2":-1.2,"r1":-15.8,"r2":-13.8},
      {"t":16.03,"b1":14.8,"b2":17.6,"c1":4.0,"c2":5.9,"m1":-3.4,"m2":-1.9,"r1":-15.2,"r2":-13.2},
      {"t":16.06,"b1":15.2,"b2":17.3,"c1":3.7,"c2":6.1,"m1":-3.8,"m2":-1.6,"r1":-15.3,"r2":-13.7},
      {"t":16.09,"b1":14.7,"b2":17.1,"c1":4.0,"c2":5.4,"m1":-4.3,"m2":-2.2,"r1":-15.7,"r2":-13.7},
      {"t":16.12,"b1":14.9,"b2":17.6,"c1":3.4,"c2":5.7,"m1":-3.9,"m2":-2.6,"r1":-15.5,"r2":-14.4},
      {"t":16.15,"b1":14.5,"b2":16.9,"c1":3.6,"c2":5.2,"m1":-4.5,"m2":-2.4,"r1":-16.0,"r2":-14.1},
      {"t":16.18,"b1":15.1,"b2":17.2,"c1":3.2,"c2":5.2,"m1":-4.9,"m2":-3.0,"r1":-15.8,"r2":-14.6},
      {"t":16.21,"b1":14.8,"b2":16.9,"c1":3.5,"c2":4.6,"m1":-4.7,"m2":-2.7,"r1":-16.5,"r2":-15.1},
      {"t":16.24,"b1":14.6,"b2":17.2,"c1":3.2,"c2":5.1,"m1":-5.2,"m2":-3.5,"r1":-16.3,"r2":-14.5},
      {"t":16.27,"b1":15.0,"b2":16.7,"c1":2.8,"c2":4.6,"m1":-5.6,"m2":-3.4,"r1":-16.1,"r2":-14.6},
      {"t":16.3,"b1":14.5,"b2":17.2,"c1":3.4,"c2":4.3,"m1":-5.1,"m2":-3.8,"r1":-14.8,"r2":-13.4},
      {"t":16.33,"b1":14.8,"b2":16.8,"c1":3.0,"c2":4.7,"m1":-5.3,"m2":-3.1,"r1":-14.5,"r2":-13.0},
      {"t":16.36,"b1":14.6,"b2":17.0,"c1":2.8,"c2":4.2,"m1":-4.8,"m2":-3.2,"r1":-14.3,"r2":-12.0},
      {"t":16.38,"b1":15.0,"b2":17.0,"c1":3.2,"c2":4.7,"m1":-4.9,"m2":-3.0,"r1":-13.8,"r2":-11.9}
    ],
    "spikes": [
      {"s":"QD4AFF","t":9.615,"lo":14.5,"hi":20.6},
      {"s":"QD4AFF","t":9.675,"lo":11.0,"hi":19.0},
      {"s":"QD4AFF","t":10.374,"lo":11.4,"hi":17.3},
      {"s":"QD4AFF","t":10.626,"lo":13.0,"hi":18.5},
      {"s":"QD4AFF","t":10.649,"lo":12.9,"hi":21.7},
      {"s":"QD4AFF","t":10.688,"lo":14.0,"hi":20.9},
      {"s":"QD4AFF","t":11.45,"lo":14.5,"hi":21.0},
      {"s":"QD4AFF","t":14.4,"lo":13.5,"hi":22.1},
      {"s":"QD4AFF","t":14.607,"lo":14.0,"hi":23.5},
      {"s":"QD4AFF","t":14.657,"lo":13.0,"hi":17.0},
      {"s":"QD4AFF","t":15.643,"lo":13.0,"hi":17.5},
      {"s":"QD4AFF","t":15.692,"lo":8.9,"hi":24.2},
      {"s":"QF7FF","t":9.61,"lo":0.2,"hi":16.3},
      {"s":"QF7FF","t":9.676,"lo":2.7,"hi":16.3},
      {"s":"QF7FF","t":10.62,"lo":1.8,"hi":12.0},
      {"s":"QF7FF","t":10.66,"lo":3.0,"hi":14.0},
      {"s":"QF7FF","t":11.39,"lo":3.0,"hi":12.0},
      {"s":"QF7FF","t":11.45,"lo":3.5,"hi":10.5},
      {"s":"QF7FF","t":14.4,"lo":3.0,"hi":14.2},
      {"s":"QF7FF","t":14.478,"lo":4.0,"hi":11.3},
      {"s":"QF7FF","t":15.634,"lo":5.0,"hi":22.7},
      {"s":"QM11FF","t":9.61,"lo":-7.3,"hi":8.5},
      {"s":"QM11FF","t":9.676,"lo":-14.3,"hi":1.0},
      {"s":"QM11FF","t":10.375,"lo":-11.0,"hi":0.6},
      {"s":"QM11FF","t":10.62,"lo":-11.0,"hi":1.5},
      {"s":"QM11FF","t":10.65,"lo":-8.0,"hi":2.0},
      {"s":"QM11FF","t":10.69,"lo":-10.0,"hi":1.0},
      {"s":"QM11FF","t":11.39,"lo":-11.0,"hi":5.0},
      {"s":"QM11FF","t":11.45,"lo":-10.0,"hi":0.5},
      {"s":"QM11FF","t":12.69,"lo":0.2,"hi":5.0},
      {"s":"QM11FF","t":14.4,"lo":-8.0,"hi":15.1},
      {"s":"QM11FF","t":14.478,"lo":-7.0,"hi":6.8},
      {"s":"QM11FF","t":14.613,"lo":-8.0,"hi":13.8},
      {"s":"QM11FF","t":14.68,"lo":-8.0,"hi":3.0},
      {"s":"QM11FF","t":15.437,"lo":6.0,"hi":18.8},
      {"s":"QM11FF","t":15.643,"lo":-38.7,"hi":2.0},
      {"s":"QM11FF","t":15.907,"lo":-4.4,"hi":2.7},
      {"s":"QM16FF","t":9.61,"lo":-20.5,"hi":-8.9},
      {"s":"QM16FF","t":9.672,"lo":-28.8,"hi":-15.0},
      {"s":"QM16FF","t":10.375,"lo":-28.8,"hi":-16.0},
      {"s":"QM16FF","t":10.61,"lo":-33.0,"hi":-19.0},
      {"s":"QM16FF","t":10.64,"lo":-32.0,"hi":-13.0},
      {"s":"QM16FF","t":10.68,"lo":-32.0,"hi":-16.0},
      {"s":"QM16FF","t":11.39,"lo":-34.5,"hi":-13.0},
      {"s":"QM16FF","t":11.45,"lo":-34.8,"hi":-19.0},
      {"s":"QM16FF","t":13.618,"lo":-12.0,"hi":-7.5},
      {"s":"QM16FF","t":14.4,"lo":-25.0,"hi":-1.5},
      {"s":"QM16FF","t":14.48,"lo":-25.0,"hi":-10.0},
      {"s":"QM16FF","t":14.595,"lo":-27.5,"hi":4.3},
      {"s":"QM16FF","t":14.675,"lo":-30.4,"hi":-14.0},
      {"s":"QM16FF","t":15.437,"lo":-40.0,"hi":9.0},
      {"s":"QM16FF","t":15.63,"lo":-23.4,"hi":-14.0},
      {"s":"QM16FF","t":15.688,"lo":-40.0,"hi":-13.0},
      {"s":"QM16FF","t":15.907,"lo":-20.1,"hi":-13.5}
    ]
  },
  "layer": [
    {
      "encoding": {
        "x": {
          "field": "t",
          "type": "quantitative",
          "scale": {"domain": [9, 17], "nice": false, "zero": false},
          "axis": {
            "values": [9, 10, 11, 12, 13, 14, 15, 16, 17],
            "grid": true,
            "gridDash": [1.5, 5],
            "gridColor": "#111111",
            "gridWidth": 1.3,
            "labelPadding": 28,
            "title": "Day of September 2009",
            "titlePadding": 11,
            "zindex": 0
          }
        }
      },
      "layer": [
        {
          "data": {"name": "bands"},
          "mark": {"type": "area"},
          "encoding": {
            "y": {
              "field": "b1",
              "type": "quantitative",
              "title": "ΔHeight [μm]",
              "scale": {"domain": [-40, 40], "nice": false, "zero": false},
              "axis": {"values": [-40, -30, -20, -10, 0, 10, 20, 30], "labelPadding": 29, "titlePadding": 9, "zindex": 0}
            },
            "y2": {"field": "b2"},
            "color": {
              "datum": "QD4AFF",
              "type": "nominal",
              "title": null,
              "scale": {
                "domain": ["QD2BFF", "QD4AFF", "QF7FF", "QM11FF", "QM16FF"],
                "range": ["#000000", "#0000e8", "#72f4f4", "#f45ff4", "#f20000"]
              },
              "legend": {"title": null}
            }
          }
        },
        {
          "data": {"name": "bands"},
          "mark": {"type": "area"},
          "encoding": {
            "y": {"field": "c1", "type": "quantitative", "title": "ΔHeight [μm]", "scale": {"domain": [-40, 40], "nice": false, "zero": false}},
            "y2": {"field": "c2"},
            "color": {"datum": "QF7FF", "type": "nominal", "title": null}
          }
        },
        {
          "data": {"name": "bands"},
          "mark": {"type": "area"},
          "encoding": {
            "y": {"field": "m1", "type": "quantitative", "title": "ΔHeight [μm]", "scale": {"domain": [-40, 40], "nice": false, "zero": false}},
            "y2": {"field": "m2"},
            "color": {"datum": "QM11FF", "type": "nominal", "title": null}
          }
        },
        {
          "data": {"name": "bands"},
          "mark": {"type": "area"},
          "encoding": {
            "y": {"field": "r1", "type": "quantitative", "title": "ΔHeight [μm]", "scale": {"domain": [-40, 40], "nice": false, "zero": false}},
            "y2": {"field": "r2"},
            "color": {"datum": "QM16FF", "type": "nominal", "title": null}
          }
        },
        {
          "data": {"values": [{"t": 9.37, "v": 0, "s": "QD2BFF"}, {"t": 16.38, "v": 0, "s": "QD2BFF"}]},
          "mark": {"type": "line", "strokeWidth": 1.4},
          "encoding": {
            "y": {"field": "v", "type": "quantitative", "title": "ΔHeight [μm]", "scale": {"domain": [-40, 40], "nice": false, "zero": false}},
            "color": {"field": "s", "type": "nominal", "title": null}
          }
        },
        {
          "data": {"name": "spikes"},
          "mark": {"type": "rule", "strokeWidth": 1.3},
          "encoding": {
            "y": {"field": "lo", "type": "quantitative", "title": "ΔHeight [μm]", "scale": {"domain": [-40, 40], "nice": false, "zero": false}},
            "y2": {"field": "hi"},
            "color": {"field": "s", "type": "nominal", "title": null}
          }
        },
        {
          "data": {"values": [{"t": 8.0, "t2": 11.919, "v": 38.9, "v2": 42.0}]},
          "mark": {"type": "rect", "fill": "#c6d9f1", "stroke": "#0000ff", "strokeWidth": 3},
          "encoding": {
            "x2": {"field": "t2"},
            "y": {"field": "v", "type": "quantitative", "title": "ΔHeight [μm]", "scale": {"domain": [-40, 40], "nice": false, "zero": false}},
            "y2": {"field": "v2"}
          }
        },
        {
          "data": {"values": [{"t": 8.0, "t2": 9.14, "v": 40.03}]},
          "mark": {"type": "rule", "stroke": "#0000ff", "strokeWidth": 3},
          "encoding": {
            "x2": {"field": "t2"},
            "y": {"field": "v", "type": "quantitative", "title": "ΔHeight [μm]", "scale": {"domain": [-40, 40], "nice": false, "zero": false}}
          }
        },
        {
          "data": {"values": [{"t": 7.92, "v": 40.44, "label": "Problem 3: Effect of crane work"}]},
          "mark": {"type": "text", "font": "Liberation Sans", "fontSize": 48, "fontWeight": "bold", "fill": "#0000ff", "align": "left", "baseline": "alphabetic"},
          "encoding": {
            "y": {"field": "v", "type": "quantitative", "title": "ΔHeight [μm]", "scale": {"domain": [-40, 40], "nice": false, "zero": false}},
            "text": {"field": "label"}
          }
        },
        {
          "data": {"values": [{"t": 12.374, "v": 32.54, "label": "Signal variation relative to that of QD2B"}]},
          "mark": {"type": "text", "font": "Liberation Sans", "fontSize": 49, "fill": "#650065", "align": "center", "baseline": "alphabetic"},
          "encoding": {
            "y": {"field": "v", "type": "quantitative", "title": "ΔHeight [μm]", "scale": {"domain": [-40, 40], "nice": false, "zero": false}},
            "text": {"field": "label"}
          }
        },
        {
          "data": {"values": [{"t": 10.511, "v": 29.43, "v2": 23.3}, {"t": 11.542, "v": 29.43, "v2": 23.3}, {"t": 14.524, "v": 31.13, "v2": 24.9}]},
          "mark": {"type": "rule", "stroke": "#ff0000", "strokeWidth": 7},
          "encoding": {
            "y": {"field": "v", "type": "quantitative", "title": "ΔHeight [μm]", "scale": {"domain": [-40, 40], "nice": false, "zero": false}},
            "y2": {"field": "v2"}
          }
        },
        {
          "data": {"values": [{"t": 10.511, "v": 22.9}, {"t": 11.542, "v": 22.9}, {"t": 14.524, "v": 24.5}]},
          "mark": {"type": "point", "shape": "M-1,-0.9L1,-0.9L0,1Z", "size": 729, "filled": true, "fill": "#a8a8a8", "opacity": 0.55, "strokeWidth": 0, "xOffset": 2, "yOffset": 3},
          "encoding": {
            "y": {"field": "v", "type": "quantitative", "title": "ΔHeight [μm]", "scale": {"domain": [-40, 40], "nice": false, "zero": false}}
          }
        },
        {
          "data": {"values": [{"t": 10.511, "v": 22.9}, {"t": 11.542, "v": 22.9}, {"t": 14.524, "v": 24.5}]},
          "mark": {"type": "point", "shape": "M-1,-0.9L1,-0.9L0,1Z", "size": 729, "filled": true, "fill": "#ff0000", "opacity": 1, "strokeWidth": 0},
          "encoding": {
            "y": {"field": "v", "type": "quantitative", "title": "ΔHeight [μm]", "scale": {"domain": [-40, 40], "nice": false, "zero": false}}
          }
        }
      ]
    },
    {
      "data": {"values": [{"t": 9, "v": 0}]},
      "mark": {"type": "point", "opacity": 0},
      "encoding": {
        "x": {
          "field": "t",
          "type": "quantitative",
          "scale": {"domain": [9, 17], "nice": false, "zero": false},
          "axis": {"orient": "top", "values": [10, 11, 12, 13, 14, 15, 16], "labels": false, "domain": false, "grid": false, "title": null, "tickSize": -15}
        },
        "y": {
          "field": "v",
          "type": "quantitative",
          "scale": {"domain": [-40, 40], "nice": false, "zero": false},
          "axis": {"orient": "right", "values": [-30, -20, -10, 0, 10, 20, 30], "labels": false, "domain": false, "grid": false, "title": null, "tickSize": -15}
        }
      }
    }
  ],
  "resolve": {"scale": {"x": "independent", "y": "independent"}},
  "config": {
    "view": {"stroke": "#000000", "strokeWidth": 1.5},
    "font": "Liberation Sans",
    "axis": {
      "labelFont": "Liberation Sans",
      "labelFontSize": 28,
      "labelColor": "#222222",
      "labelFlush": false,
      "labelOverlap": false,
      "tickColor": "#000000",
      "tickSize": -15,
      "tickWidth": 1.3,
      "domainColor": "#000000",
      "domainWidth": 1.5,
      "titleFont": "Liberation Sans",
      "titleFontSize": 30,
      "titleFontWeight": "normal",
      "titleColor": "#222222",
      "grid": false
    },
    "legend": {
      "orient": "top-right",
      "offset": 16,
      "symbolType": "stroke",
      "symbolSize": 1800,
      "symbolStrokeWidth": 1.5,
      "symbolOffset": 14,
      "labelFont": "Liberation Sans",
      "labelFontSize": 28,
      "labelColor": "#222222",
      "labelOffset": 20,
      "strokeColor": "#000000",
      "fillColor": "#ffffff",
      "padding": 3,
      "rowPadding": 0
    }
  }
}
